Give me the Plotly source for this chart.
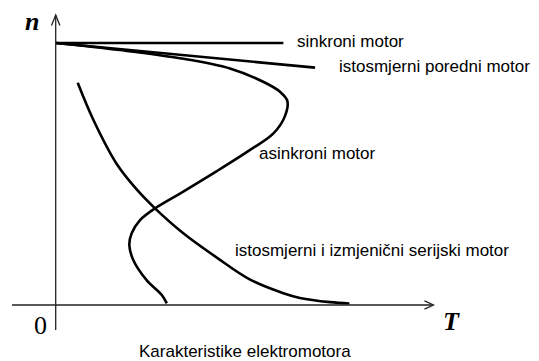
import plotly.graph_objects as go

# ---- data (schematic units: T torque, n speed; n = 1 is synchronous speed) ----
sync_T = [0.0, 0.869]
sync_n = [1.0, 1.0]

shunt_T = [0.0, 0.990]
shunt_n = [1.0, 0.906]

async_T = [0.0, 0.245, 0.474, 0.665, 0.792, 0.856, 0.884, 0.875, 0.831, 0.742,
           0.615, 0.487, 0.379, 0.322, 0.290, 0.281, 0.296, 0.347, 0.405, 0.424]
async_n = [1.0, 0.973, 0.942, 0.903, 0.852, 0.814, 0.779, 0.721, 0.655, 0.592,
           0.511, 0.433, 0.369, 0.324, 0.274, 0.229, 0.172, 0.095, 0.038, 0.006]

series_T = [0.084, 0.144, 0.233, 0.309, 0.379, 0.487, 0.615, 0.742, 0.869, 0.932, 1.047, 1.121]
series_n = [0.848, 0.706, 0.538, 0.441, 0.369, 0.274, 0.181, 0.097, 0.045, 0.027, 0.011, 0.006]

labels = ["sinkroni motor", "istosmjerni poredni motor", "asinkroni motor",
          "istosmjerni i izmjenični serijski motor"]
title_text = "Karakteristike elektromotora"

# ---- layout helpers (pixel -> axis units) ----
W, H = 539, 361
X0, Y0, S = 55.7, 305.0, 262.0


def tx(px):
    return (px - X0) / S


def ny(py):
    return (Y0 - py) / S


fig = go.Figure()

line_style = dict(color="black", width=2.6)
fig.add_trace(go.Scatter(x=sync_T, y=sync_n, mode="lines", line=line_style, hoverinfo="skip"))
fig.add_trace(go.Scatter(x=shunt_T, y=shunt_n, mode="lines", line=line_style, hoverinfo="skip"))
fig.add_trace(go.Scatter(x=async_T, y=async_n, mode="lines",
                         line=dict(color="black", width=2.6, shape="spline", smoothing=1.0),
                         hoverinfo="skip"))
fig.add_trace(go.Scatter(x=series_T, y=series_n, mode="lines",
                         line=dict(color="black", width=2.6, shape="spline", smoothing=1.0),
                         hoverinfo="skip"))

axis_line = dict(color="#222222", width=1.3)
shapes = [
    # vertical axis (n)
    dict(type="line", xref="x", yref="y", x0=0, y0=ny(330), x1=0, y1=ny(15), line=axis_line),
    # horizontal axis (T)
    dict(type="line", xref="x", yref="y", x0=tx(12), y0=0, x1=tx(433), y1=0, line=axis_line),
    # arrow heads
    dict(type="path", xref="x", yref="y",
         path=f"M {tx(51.5)} {ny(25.5)} L {tx(55.7)} {ny(15)} L {tx(59.9)} {ny(25.5)}",
         line=axis_line),
    dict(type="path", xref="x", yref="y",
         path=f"M {tx(424.5)} {ny(300.8)} L {tx(433.5)} {ny(305)} L {tx(424.5)} {ny(309.2)}",
         line=axis_line),
]

sans = "Liberation Sans, Arial, sans-serif"
serif = "Liberation Serif, Times New Roman, serif"
annotations = [
    dict(x=tx(295), y=ny(41.5), text=labels[0], xanchor="left", yanchor="middle",
         font=dict(family=sans, size=17, color="black")),
    dict(x=tx(336.5), y=ny(66.5), text=labels[1], xanchor="left", yanchor="middle",
         font=dict(family=sans, size=17, color="black")),
    dict(x=tx(256.5), y=ny(153.5), text=labels[2], xanchor="left", yanchor="middle",
         font=dict(family=sans, size=17, color="black")),
    dict(x=tx(232.5), y=ny(250), text=labels[3], xanchor="left", yanchor="middle",
         font=dict(family=sans, size=17, color="black")),
    dict(x=tx(245), y=ny(351), text=title_text, xanchor="center", yanchor="middle",
         font=dict(family=sans, size=17, color="black")),
    dict(x=tx(32), y=ny(21), text="<b><i>n</i></b>", xanchor="center", yanchor="middle",
         font=dict(family=serif, size=26, color="black")),
    dict(x=tx(451.5), y=ny(321.5), text="<b><i>T</i></b>", xanchor="center", yanchor="middle",
         font=dict(family=serif, size=26, color="black")),
    dict(x=tx(40), y=ny(325), text="0", xanchor="center", yanchor="middle",
         font=dict(family=serif, size=26, color="black")),
]
for a in annotations:
    a["showarrow"] = False
    a["xref"] = "x"
    a["yref"] = "y"

fig.update_layout(
    width=W, height=H,
    margin=dict(l=0, r=0, t=0, b=0),
    paper_bgcolor="white", plot_bgcolor="white",
    showlegend=False,
    shapes=shapes,
    annotations=annotations,
    xaxis=dict(range=[tx(0), tx(W)], visible=False, fixedrange=True),
    yaxis=dict(range=[ny(H), ny(0)], visible=False, fixedrange=True),
)

fig.write_html(
    "out.html",
    config=dict(displayModeBar=False),
    post_script="document.body.style.margin='0';document.body.style.overflow='hidden';",
)
